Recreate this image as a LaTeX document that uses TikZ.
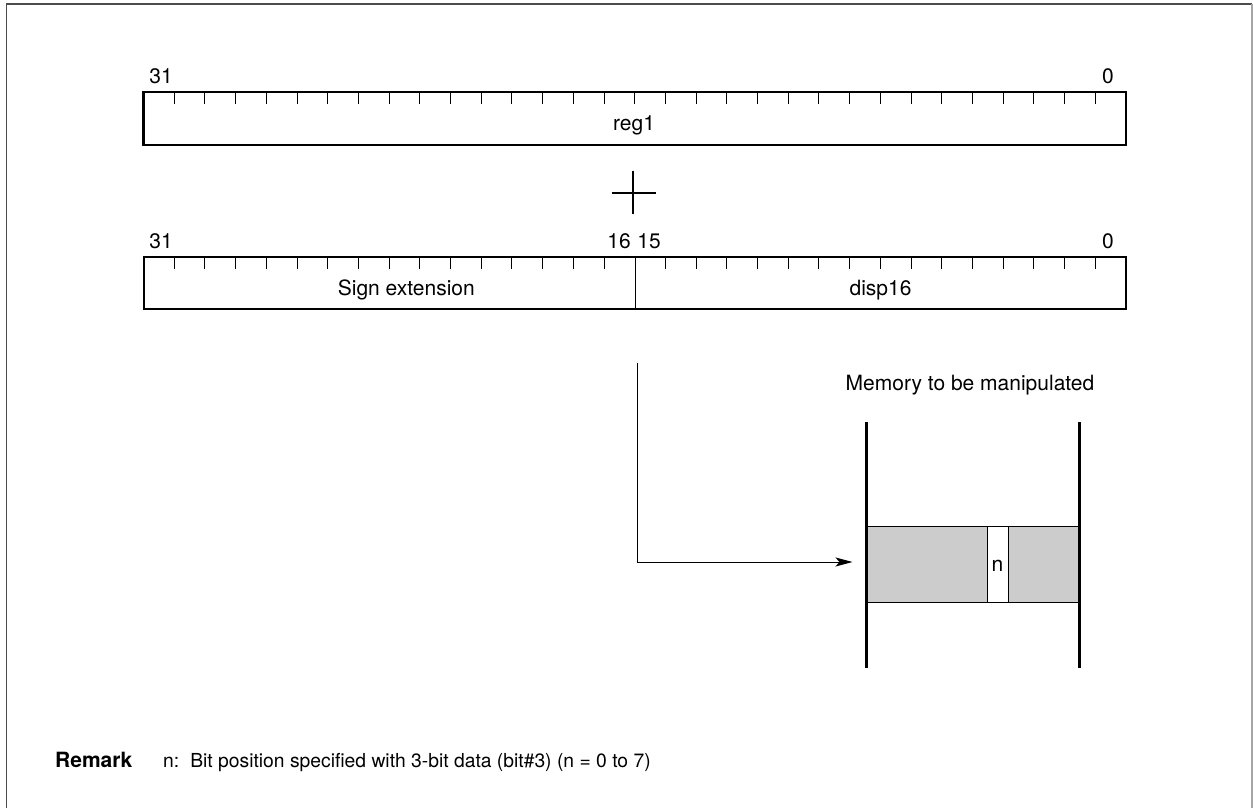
\documentclass[tikz,border=0pt]{standalone}
\usepackage{fontspec}
\setmainfont{TeX Gyre Heros}
\usetikzlibrary{arrows.meta}
\begin{document}
\begin{tikzpicture}[x=1pt,y=-1pt,
  every node/.style={font=\fontsize{21}{25}\selectfont, inner sep=0pt},
  regbox/.style={draw, line width=2.6pt, inner sep=0pt},
  tick/.style={line width=1pt},
  thinline/.style={line width=1pt},
  column/.style={line width=3pt},
  band/.style={draw, line width=1pt, fill=black!20, inner sep=0pt},
  conn/.style={line width=1pt, -{Stealth[length=17pt,width=9pt,inset=4pt]}},
  lbl/.style={anchor=base}
]
\useasboundingbox (0,0) rectangle (1253,808);
% frame
\draw[line width=1.4pt, black!70] (6.7,808) -- (6.7,4) -- (1252,4);
\draw[line width=1.4pt, black!35] (1252,4) -- (1252,808);

% register 1
\node[regbox, minimum width=982.5pt, minimum height=53pt] (reg1) at (634.75,118.5) {};
\foreach \i in {1,...,31} \draw[tick] (143.5+\i*30.703,92) -- ++(0,11.5);
\node[lbl] (r1hi) at (161,83) {31};
\node[lbl] (r1lo) at (1108,83) {0};
\node[lbl] (r1name) at (634,130.7) {reg1};

% plus
\draw[line width=2pt] (611.7,192.7) -- (656,192.7);
\draw[line width=2pt] (633.3,170.7) -- (633.3,214.3);

% register 2
\node[regbox, minimum width=982pt, minimum height=52pt] (reg2) at (635,283) {};
\foreach \i in {1,...,15,17,18,...,31} \draw[tick] (143.5+\i*30.703,257) -- ++(0,11.5);
\draw[thinline] (reg2.north) -- (reg2.south);
\node[lbl] (r2hi) at (161,248) {31};
\node[lbl] (r2b16) at (619,248) {16};
\node[lbl] (r2b15) at (649,248) {15};
\node[lbl] (r2lo) at (1108,248) {0};
\node[lbl] (sign) at (406.3,295) {Sign extension};
\node[lbl] (disp) at (880.5,295) {disp16};

% memory
\node[lbl] (memlbl) at (970,390.7) {Memory to be manipulated};
\node[band, minimum width=213pt, minimum height=76pt] (membyte) at (972.5,564) {};
\node[draw, line width=1pt, fill=white, minimum width=21pt, minimum height=76pt] (nbit) at (997.5,564) {};
\node[lbl] (ntext) at (997.5,571.7) {n};
\draw[column] (866,422) -- (866,668);
\draw[column] (1079,422) -- (1079,668);

% connector
\coordinate (start) at (637,363);
\draw[conn, shorten >=13pt] (start) |- ([yshift=2pt]membyte.west);

% remark
\node[anchor=base west, font=\fontsize{21}{25}\selectfont\bfseries] (remark) at (55,767) {Remark};
\node[anchor=base west, font=\fontsize{19.3}{24}\selectfont] (remtext) at (163,767) {n:\hspace{11pt}Bit position specified with 3-bit data (bit\#3) (n = 0 to 7)};
\end{tikzpicture}
\end{document}
